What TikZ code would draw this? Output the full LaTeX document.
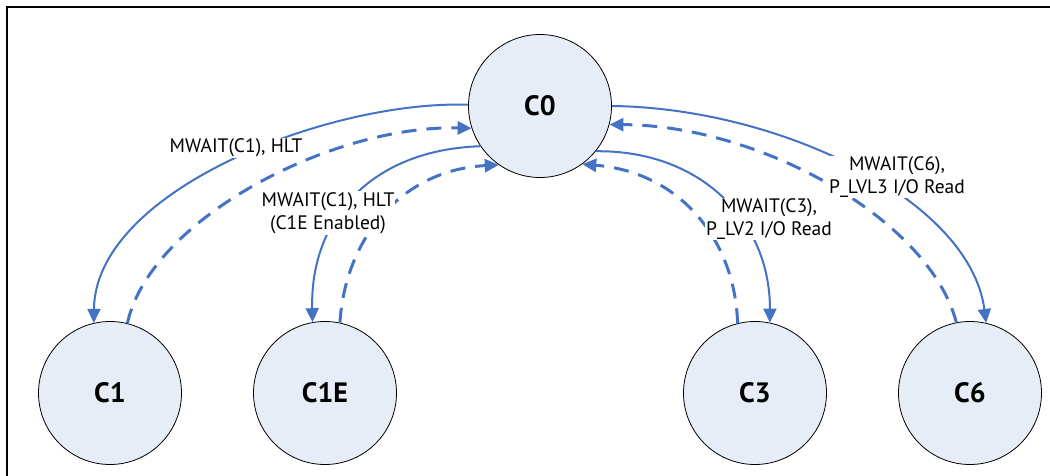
\documentclass[tikz,border=0pt]{standalone}
\usepackage{fontspec}
\setmainfont{PT Sans}
\usetikzlibrary{arrows.meta}
\definecolor{lnblue}{HTML}{4472C4}
\definecolor{nodefill}{HTML}{E6EDF7}
\begin{document}
\begin{tikzpicture}[x=1pt,y=-1pt,
 state/.style={circle, draw=black, line width=0.8pt, fill=nodefill, minimum size=143pt, inner sep=0pt, font=\fontsize{28}{32}\selectfont\bfseries},
 goarrow/.style={draw=lnblue, line width=2pt, -{Triangle[length=14pt,width=13pt]}},
 backarrow/.style={draw=lnblue, line width=3pt, dash pattern=on 15pt off 10pt, -{Triangle[length=14pt,width=13pt]}},
 lbl/.style={fill=white, inner sep=1pt, font=\fontsize{19.5}{23}\selectfont, align=center}]
\useasboundingbox (0,0) rectangle (1050,476);
\draw[line width=2.5pt] (7,480) -- (7,7) -- (1055,7);

\node[state] (c0) at (540,106) {C0};
\node[state] (c1) at (110,393) {C1};
\node[state] (c1e) at (325,393) {C1E};
\node[state] (c3) at (755,393) {C3};
\node[state] (c6) at (970,393) {C6};

\draw[goarrow] (c0.179) .. controls (330,100) and (95,190) .. (c1.103);
\draw[backarrow] (c1.76) .. controls (150,220) and (330,125) .. (c0.198);
\draw[goarrow] (c0.214) .. controls (370,150) and (310,220) .. (c1e.100);
\draw[backarrow] (c1e.78) .. controls (345,240) and (400,170) .. (c0.235);
\draw[goarrow] (c0.321) .. controls (700,150) and (770,220) .. (c3.78);
\draw[backarrow] (c3.104) .. controls (735,240) and (680,172) .. (c0.306);
\draw[goarrow] (c0.0) .. controls (780,108) and (970,200) .. (c6.77);
\draw[backarrow] (c6.101) .. controls (930,220) and (760,125) .. (c0.345);

\node[lbl] (l1) at (236,148) {MWAIT(C1), HLT};
\node[lbl] (l2) at (328,213) {MWAIT(C1), HLT\\(C1E Enabled)};
\node[lbl] (l3) at (769,219) {MWAIT(C3),\\P\_LV2 I/O Read};
\node[lbl] (l4) at (897,177) {MWAIT(C6),\\P\_LVL3 I/O Read};
\end{tikzpicture}
\end{document}
